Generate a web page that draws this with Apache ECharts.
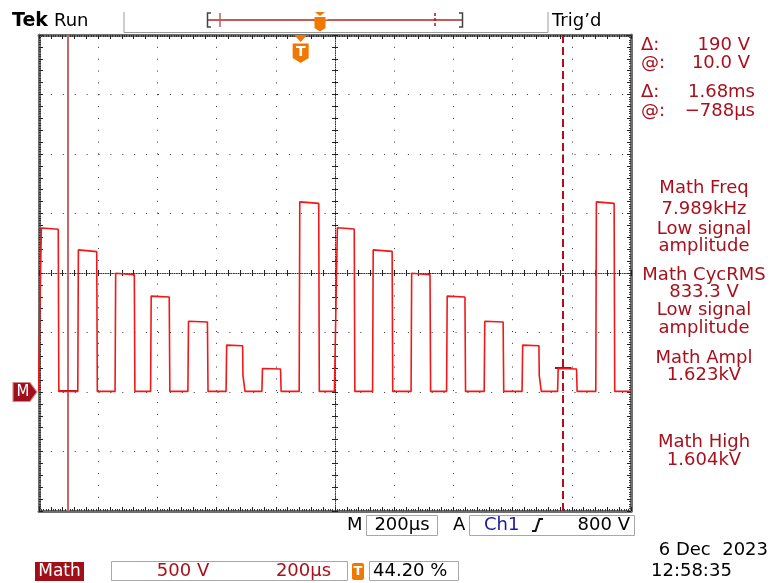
<!DOCTYPE html>
<html><head><meta charset="utf-8">
<script src="https://cdn.jsdelivr.net/npm/echarts@6/dist/echarts.min.js"></script>
<style>html,body{margin:0;padding:0;background:#fff}#c{width:771px;height:583px}</style>
</head><body><div id="c"></div>
<script>
// ---- data (time in µs from left graticule edge, volts) ----
const riseT     = [-2, 131, 257, 377, 503, 632, 753, 879, 998, 1127, 1257, 1377, 1504, 1632, 1752, 1881];
const riseDur   = [10, 2, 2, 2, 2, 2, 2, 2, 10, 2, 2, 2, 2, 2, 2, 2];
const fallT     = [65, 195, 322, 440, 569, 688, 816, 945, 1065, 1193, 1321, 1439, 1568, 1689, 1816, 1943];
const topStartV = [1378, 1194, 998, 806, 594, 394, 197, 1598, 1380, 1194, 998, 806, 594, 394, 197, 1598];
const topEndV   = [1368, 1180, 985, 798, 588, 389, 193, 1585, 1370, 1182, 985, 798, 588, 389, 193, 1585];
const tailV     = [0, 0, 0, 0, 0, 140, 0, 0, 0, 0, 0, 0, 0, 140, 0, 0];
const tailDur   = [2, 2, 2, 2, 2, 8, 2, 2, 2, 2, 2, 2, 2, 8, 2, 2];
const groundV   = 5;
const cursorT   = [97, 1771];
const cursorV   = [10, 200];
const triggerT  = 884;
const timeRange = [0, 2000];
const voltRange = [-1000, 3000];
const cursorReadout = [['\u0394:', '190 V'], ['@:', '10.0 V'], ['\u0394:', '1.68ms'], ['@:', '\u2212788\u00b5s']];
const measLines = ['Math Freq', '7.989kHz', 'Low signal', 'amplitude', 'Math CycRMS', '833.3 V', 'Low signal', 'amplitude', 'Math Ampl', '1.623kV', 'Math High', '1.604kV'];

// ---- build trace ----
const trace = [];
for (let i = 0; i < riseT.length; i++) {
  trace.push([riseT[i], groundV]);
  trace.push([riseT[i] + riseDur[i], topStartV[i]]);
  trace.push([fallT[i], topEndV[i]]);
  if (tailV[i]) { trace.push([fallT[i] + 1, tailV[i]]); trace.push([fallT[i] + tailDur[i], groundV]); }
  else trace.push([fallT[i] + tailDur[i], groundV]);
}
trace.push([timeRange[1], groundV]);

const FONT = '"DejaVu Sans", Verdana, sans-serif';
const RED = '#a8101c';
const G = {left: 39, top: 35, width: 592, height: 476};

function frameAxis(extra) {
  return Object.assign({
    type: 'value', axisLabel: {show: false}, splitLine: {show: false},
    axisLine: {show: true, onZero: false, lineStyle: {color: '#6e6e6e', width: 3}},
    axisTick: {show: true, inside: true, length: 4, lineStyle: {color: '#222', width: 1}},
    minorTick: {show: true, splitNumber: 5, length: 2, lineStyle: {color: '#333', width: 1}}
  }, extra);
}
function centerAxis(extra, line) {
  return Object.assign({
    type: 'value', axisLabel: {show: false}, splitLine: {show: false},
    axisLine: {show: line, onZero: false, lineStyle: {color: '#333', width: 1, type: [1, 1.37]}},
    axisTick: {show: true, inside: true, length: 3, lineStyle: {color: '#222', width: 1}},
    minorTick: {show: false}
  }, extra);
}

const xAxis = [
  {gridIndex: 0, type: 'value', min: timeRange[0], max: timeRange[1], interval: 200,
   axisLine: {show: false, onZero: false}, axisTick: {show: false}, axisLabel: {show: false},
   splitLine: {show: true, lineStyle: {color: '#333', width: 1, type: [1, 10.84]}}},
  frameAxis({gridIndex: 1, position: 'bottom', min: timeRange[0], max: timeRange[1], interval: 40}),
  frameAxis({gridIndex: 1, position: 'top', min: timeRange[0], max: timeRange[1], interval: 40}),
  centerAxis({gridIndex: 2, position: 'bottom', offset: -238, min: timeRange[0], max: timeRange[1], interval: 40}, true),
  centerAxis({gridIndex: 2, position: 'top', offset: -238, min: timeRange[0], max: timeRange[1], interval: 40}, false)
];
const yAxis = [
  {gridIndex: 0, type: 'value', min: voltRange[0], max: voltRange[1], interval: 500,
   axisLine: {show: false, onZero: false}, axisTick: {show: false}, axisLabel: {show: false},
   splitLine: {show: true, lineStyle: {color: '#333', width: 1, type: [1, 10.9]}}},
  frameAxis({gridIndex: 1, position: 'left', min: voltRange[0], max: voltRange[1], interval: 100}),
  frameAxis({gridIndex: 1, position: 'right', min: voltRange[0], max: voltRange[1], interval: 100}),
  centerAxis({gridIndex: 2, position: 'left', offset: -296, min: voltRange[0], max: voltRange[1], interval: 100}, true),
  centerAxis({gridIndex: 2, position: 'right', offset: -296, min: voltRange[0], max: voltRange[1], interval: 100}, false)
];

// ---- graphic helpers (text & chrome) ----
function T(x, y, text, o) {
  o = o || {};
  const a = o.a || 'left';
  return {type: 'text', silent: true, z: 100, style: {
    text: text, x: x, y: y, fill: o.c || '#000',
    font: (o.w || 'normal') + ' ' + (o.s || 18) + 'px ' + (o.f || FONT),
    align: a, verticalAlign: 'middle', textAlign: a, textVerticalAlign: 'middle'}};
}
function PL(points, stroke, w, dash) {
  return {type: 'polyline', silent: true, z: 100, shape: {points: points},
    style: {stroke: stroke, lineWidth: w || 1, fill: null, lineDash: dash || null}};
}
function R(x, y, w, h, fill, stroke, r) {
  return {type: 'rect', silent: true, z: 99, shape: {x: x, y: y, width: w, height: h, r: r || 0},
    style: {fill: fill || null, stroke: stroke || null, lineWidth: 1}};
}

const graphic = [];
// top status bar
graphic.push(T(12, 21, 'Tek', {w: 'bold', s: 19}));
graphic.push(T(54, 21, 'Run', {s: 18}));
graphic.push(PL([[124, 12], [124, 32.5], [548, 32.5], [548, 12]], '#9a9a9a', 1));
graphic.push(T(552, 21, 'Trig\u2019d', {s: 18}));
graphic.push(PL([[207, 20], [463, 20]], '#c45a5a', 2));
graphic.push(PL([[211, 13], [207.5, 13], [207.5, 27], [211, 27]], '#444', 1.5));
graphic.push(PL([[459, 13], [462.5, 13], [462.5, 27], [459, 27]], '#444', 1.5));
graphic.push(PL([[220, 13], [220, 27]], '#c45a5a', 1.5));
graphic.push(PL([[435, 13], [435, 27]], '#b0101c', 1.5, [3, 2]));
graphic.push({type: 'polygon', silent: true, z: 101, shape: {points: [[315, 12], [325, 12], [320, 16]]}, style: {fill: '#f07800'}});
graphic.push({type: 'polygon', silent: true, z: 101, shape: {points: [[314.5, 17], [325.5, 17], [325.5, 28], [320, 31.5], [314.5, 28]]}, style: {fill: '#f07800'}});
graphic.push(T(320, 23.5, 'T', {c: '#fff', w: 'bold', s: 11}));

// right cursor readouts
const readY = [45, 63.5, 92, 111];
const readX = [750, 750, 755, 755];
cursorReadout.forEach(function (r, i) {
  graphic.push(T(641, readY[i], r[0], {c: RED, s: 18}));
  graphic.push(T(readX[i], readY[i], r[1], {c: RED, s: 18, a: 'right'}));
});
// measurements
const measY = [188, 209, 229, 246, 275, 292, 310, 328, 358, 375, 442, 460];
measLines.forEach(function (t, i) { graphic.push(T(704, measY[i], t, {c: RED, s: 18, a: 'center'})); });

// bottom horizontal / trigger line
graphic.push(T(347, 525, 'M', {s: 18}));
graphic.push(R(366.5, 515.5, 71, 20, null, '#a8a8a8'));
graphic.push(T(402, 525, '200\u00b5s', {s: 18, a: 'center'}));
graphic.push(T(453, 525, 'A', {s: 18}));
graphic.push(R(469.5, 515.5, 165, 20, null, '#a8a8a8'));
graphic.push(T(484, 525, 'Ch1', {c: '#1a1aa0', s: 18}));
graphic.push(PL([[532, 531], [535.5, 531], [539.5, 519], [543, 519]], '#111', 2));
graphic.push(T(630, 525, '800 V', {s: 18, a: 'right'}));
// bottom row
graphic.push(R(35, 562, 49, 19, '#a01018', null));
graphic.push(T(59.5, 571.5, 'Math', {c: '#fff', s: 17, a: 'center'}));
graphic.push(R(111.5, 561.5, 236, 19, null, '#a8a8a8'));
graphic.push(T(183, 571, '500 V', {c: RED, s: 18, a: 'center'}));
graphic.push(T(303.5, 571, '200\u00b5s', {c: RED, s: 18, a: 'center'}));
graphic.push(R(352, 563, 12, 17, '#f07800', null, 2));
graphic.push(T(358, 571.5, 'T', {c: '#fff', w: 'bold', s: 13, a: 'center'}));
graphic.push(R(369.5, 561.5, 89, 19, null, '#a8a8a8'));
graphic.push(T(373, 571, '44.20 %', {s: 18}));
graphic.push(T(768, 550, '6 Dec  2023', {s: 18, a: 'right'}));
graphic.push(T(651, 571, '12:58:35', {s: 18}));

const option = {
  animation: false,
  backgroundColor: '#fff',
  grid: [G, G, G],
  xAxis: xAxis,
  yAxis: yAxis,
  graphic: graphic,
  series: [{
    type: 'line', xAxisIndex: 0, yAxisIndex: 0, data: trace, showSymbol: false, symbol: 'none',
    clip: true, silent: true, z: 5,
    lineStyle: {color: '#f01818', width: 1.6},
    markLine: {
      silent: true, symbol: 'none', label: {show: false}, animation: false,
      data: [
        {xAxis: cursorT[0], lineStyle: {color: '#c8666c', width: 2, type: 'solid'}},
        {xAxis: cursorT[1], lineStyle: {color: '#b0101c', width: 2, type: [8, 4]}},
        [{coord: [cursorT[0] - 31, cursorV[0]], lineStyle: {color: '#9a1018', width: 2, type: 'solid'}}, {coord: [cursorT[0] + 31, cursorV[0]]}],
        [{coord: [cursorT[1] - 28, cursorV[1]], lineStyle: {color: '#9a1018', width: 2, type: 'solid'}}, {coord: [cursorT[1] + 28, cursorV[1]]}]
      ]
    },
    markPoint: {
      silent: true, animation: false,
      data: [
        {coord: [timeRange[0], 0], symbol: 'path://M0,0 L17,0 L24,9.5 L17,19 L0,19 Z',
         symbolSize: [24, 19], symbolOffset: [-14, 0],
         itemStyle: {color: '#a0101c', borderColor: '#d88a8a', borderWidth: 1},
         label: {show: true, formatter: 'M', color: '#fff', fontSize: 15, fontFamily: FONT, offset: [-2, 0]}},
        {coord: [triggerT, voltRange[1]], symbol: 'path://M1.5,0 L14.5,0 L8,7 Z M0,8.5 L16,8.5 L16,23 L8,28 L0,23 Z',
         symbolSize: [16, 28], symbolOffset: [0, 14],
         itemStyle: {color: '#f07800'},
         label: {show: true, formatter: 'T', color: '#fff', fontSize: 14, fontWeight: 'bold', fontFamily: FONT, offset: [0, 3]}}
      ]
    }
  }]
};
const chart = echarts.init(document.getElementById('c'), null, {renderer: 'canvas'});
chart.setOption(option);
</script>
</body></html>
